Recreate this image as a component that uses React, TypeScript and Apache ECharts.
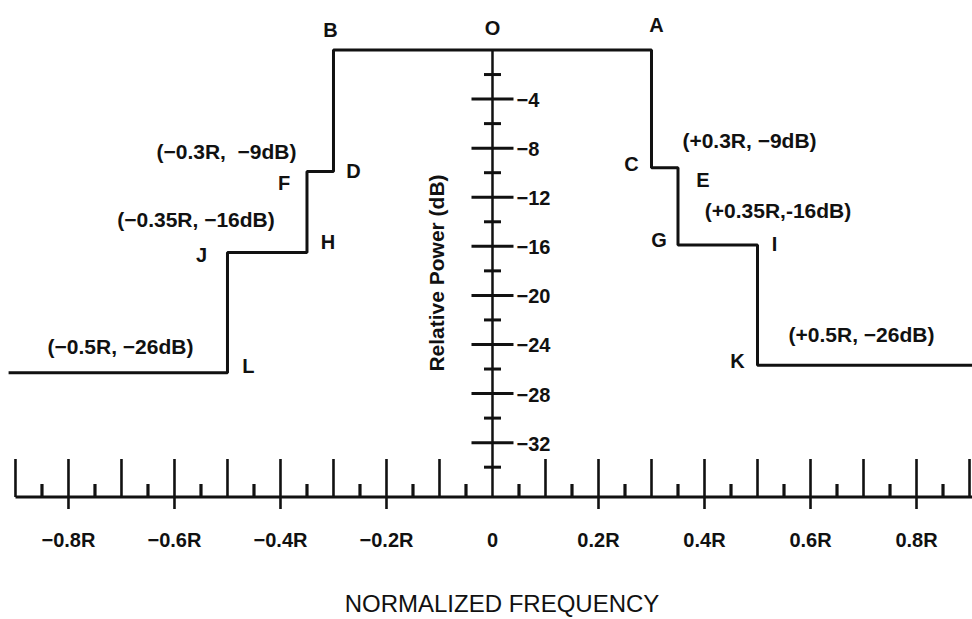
import React, { useEffect, useRef } from "react";
import * as echarts from "echarts";

// Spectral mask (normalized frequency in units of R, relative power in dB)
const maskX = [-0.913, -0.5, -0.5, -0.35, -0.35, -0.3, -0.3, 0.3, 0.3, 0.35, 0.35, 0.5, 0.5, 0.905];
const maskY = [-26.3, -26.3, -16.5, -16.5, -9.9, -9.9, 0, 0, -9.6, -9.6, -15.9, -15.9, -25.7, -25.7];

// Ruler tick labels
const xTickLabels = ["−0.8R", "−0.6R", "−0.4R", "−0.2R", "0", "0.2R", "0.4R", "0.6R", "0.8R"];
const xTickLabelValues = [-0.8, -0.6, -0.4, -0.2, 0, 0.2, 0.4, 0.6, 0.8];
const yTickLabels = ["−4", "−8", "−12", "−16", "−20", "−24", "−28", "−32"];
const yTickLabelValues = [-4, -8, -12, -16, -20, -24, -28, -32];

// Corner letters of the mask
const cornerNames = ["B", "O", "A", "C", "E", "G", "I", "K", "D", "F", "H", "J", "L"];
const cornerX = [-0.3, 0, 0.3, 0.3, 0.35, 0.35, 0.5, 0.5, -0.3, -0.35, -0.35, -0.5, -0.5];
const cornerY = [0, 0, 0, -9.6, -9.6, -15.9, -15.9, -25.7, -9.9, -9.9, -16.5, -16.5, -26.3];

// Coordinate notes, anchored at mask corners
const noteTexts = ["(+0.3R, −9dB)", "(+0.35R,-16dB)", "(+0.5R, −26dB)", "(−0.3R,  −9dB)", "(−0.35R, −16dB)", "(−0.5R, −26dB)"];
const noteX = [0.3, 0.35, 0.5, -0.3, -0.35, -0.5];
const noteY = [-9.6, -15.9, -25.7, -9.9, -16.5, -26.3];

// Axis extents
const X_MIN = -0.9292;
const X_MAX = 0.9047;
const Y_MIN = -36.43;
const Y_MAX = 0;
const X_RULER_START = -0.9;

// Pixel offsets (styling only)
const cornerOffsets: number[][] = [
  [-3, -20], [0, -22], [5, -25], [-20, -4], [25, 12], [-19, -5], [17, -1], [-20, -4],
  [20, 0], [-23, 12], [21, -10], [-26, 3], [21, -7],
];
const noteOffsets: number[][] = [
  [98, -27], [100, -35], [104, -31], [-107, -20], [-111, -33], [-107, -26],
];

const INK = "#111";
const FONT = "'Liberation Sans', Arial, Helvetica, sans-serif";

function textEl(x: number, y: number, text: string, font: string, align = "center") {
  return {
    type: "text",
    x,
    y,
    style: {
      text,
      font,
      fill: INK,
      textAlign: align,
      textVerticalAlign: "middle",
      align,
      verticalAlign: "middle",
    },
  };
}

export default function App() {
  const ref = useRef<HTMLDivElement>(null);

  useEffect(() => {
    if (!ref.current) return;
    const chart = echarts.init(ref.current, undefined, { renderer: "svg" });

    // x ruler ticks: every 0.05R, kind 0 short, 1 long, 2 long with extension below
    const xTicks: number[][] = [];
    for (let i = -18; i <= 18; i++) {
      if (i === 0) continue;
      const kind = i % 2 !== 0 ? 0 : i % 4 === 0 ? 2 : 1;
      xTicks.push([i * 0.05, kind]);
    }
    // y ruler ticks every 2 dB
    const yTicks: number[][] = [];
    for (let d = -2; d >= -34; d -= 2) {
      yTicks.push([d, d % 4 === 0 ? 1 : 0]);
    }

    const option: any = {
      animation: false,
      backgroundColor: "#ffffff",
      grid: { left: 0, right: 0, top: 50, bottom: 122 },
      xAxis: { type: "value", min: X_MIN, max: X_MAX, show: false },
      yAxis: { type: "value", min: Y_MIN, max: Y_MAX, show: false },
      series: [
        // horizontal ruler line
        {
          type: "line",
          data: [[X_RULER_START, Y_MIN], [X_MAX, Y_MIN]],
          symbol: "none",
          clip: false,
          lineStyle: { color: INK, width: 3 },
          z: 2,
        },
        // vertical power axis
        {
          type: "line",
          data: [[0, Y_MAX], [0, Y_MIN]],
          symbol: "none",
          clip: false,
          lineStyle: { color: INK, width: 2.5 },
          z: 2,
        },
        // mask
        {
          type: "line",
          data: maskX.map((x, i) => [x, maskY[i]]),
          symbol: "none",
          clip: false,
          lineStyle: { color: INK, width: 3 },
          z: 3,
        },
        // x ruler ticks
        {
          type: "custom",
          clip: false,
          data: xTicks,
          renderItem: (params: any, api: any) => {
            const x = api.value(0);
            const kind = api.value(1);
            const p = api.coord([x, Y_MIN]);
            const up = kind === 0 ? 13 : 38;
            const down = kind === 2 ? 12 : 0;
            return {
              type: "line",
              shape: { x1: p[0], y1: p[1] - up, x2: p[0], y2: p[1] + down },
              style: { stroke: INK, lineWidth: kind === 0 ? 3.2 : 2.6 },
            };
          },
          z: 2,
        },
        // y ruler ticks
        {
          type: "custom",
          clip: false,
          data: yTicks,
          renderItem: (params: any, api: any) => {
            const y = api.value(0);
            const kind = api.value(1);
            const p = api.coord([0, y]);
            const half = kind === 1 ? 21 : 8.5;
            return {
              type: "line",
              shape: { x1: p[0] - half, y1: p[1], x2: p[0] + half, y2: p[1] },
              style: { stroke: INK, lineWidth: 3 },
            };
          },
          z: 2,
        },
        // x tick labels
        {
          type: "custom",
          clip: false,
          data: xTickLabelValues.map((v, i) => [v, i]),
          renderItem: (params: any, api: any) => {
            const p = api.coord([api.value(0), Y_MIN]);
            return textEl(p[0], p[1] + 43, xTickLabels[api.value(1)], `bold 20px ${FONT}`);
          },
          z: 4,
        },
        // y tick labels
        {
          type: "custom",
          clip: false,
          data: yTickLabelValues.map((v, i) => [v, i]),
          renderItem: (params: any, api: any) => {
            const p = api.coord([0, api.value(0)]);
            return textEl(p[0] + 24, p[1] + 1, yTickLabels[api.value(1)], `bold 20px ${FONT}`, "left");
          },
          z: 4,
        },
        // corner letters
        {
          type: "custom",
          clip: false,
          data: cornerX.map((x, i) => [x, cornerY[i], i]),
          renderItem: (params: any, api: any) => {
            const i = api.value(2);
            const p = api.coord([api.value(0), api.value(1)]);
            const o = cornerOffsets[i];
            return textEl(p[0] + o[0], p[1] + o[1], cornerNames[i], `bold 20px ${FONT}`);
          },
          z: 4,
        },
        // coordinate notes
        {
          type: "custom",
          clip: false,
          data: noteX.map((x, i) => [x, noteY[i], i]),
          renderItem: (params: any, api: any) => {
            const i = api.value(2);
            const p = api.coord([api.value(0), api.value(1)]);
            const o = noteOffsets[i];
            return textEl(p[0] + o[0], p[1] + o[1], noteTexts[i], `bold 21px ${FONT}`);
          },
          z: 4,
        },
      ],
      graphic: [
        {
          type: "text",
          x: 436,
          y: 273,
          rotation: Math.PI / 2,
          style: {
            text: "Relative Power (dB)",
            font: `bold 21px ${FONT}`,
            fill: INK,
            textAlign: "center",
            textVerticalAlign: "middle",
            align: "center",
            verticalAlign: "middle",
          },
        },
        {
          type: "text",
          x: 502,
          y: 603,
          style: {
            text: "NORMALIZED FREQUENCY",
            font: `24px ${FONT}`,
            fill: INK,
            textAlign: "center",
            textVerticalAlign: "middle",
            align: "center",
            verticalAlign: "middle",
          },
        },
      ],
    };

    chart.setOption(option);
    return () => chart.dispose();
  }, []);

  return (
    <div
      ref={ref}
      style={{ position: "fixed", left: 0, top: 0, width: 972, height: 619, background: "#fff" }}
    />
  );
}
